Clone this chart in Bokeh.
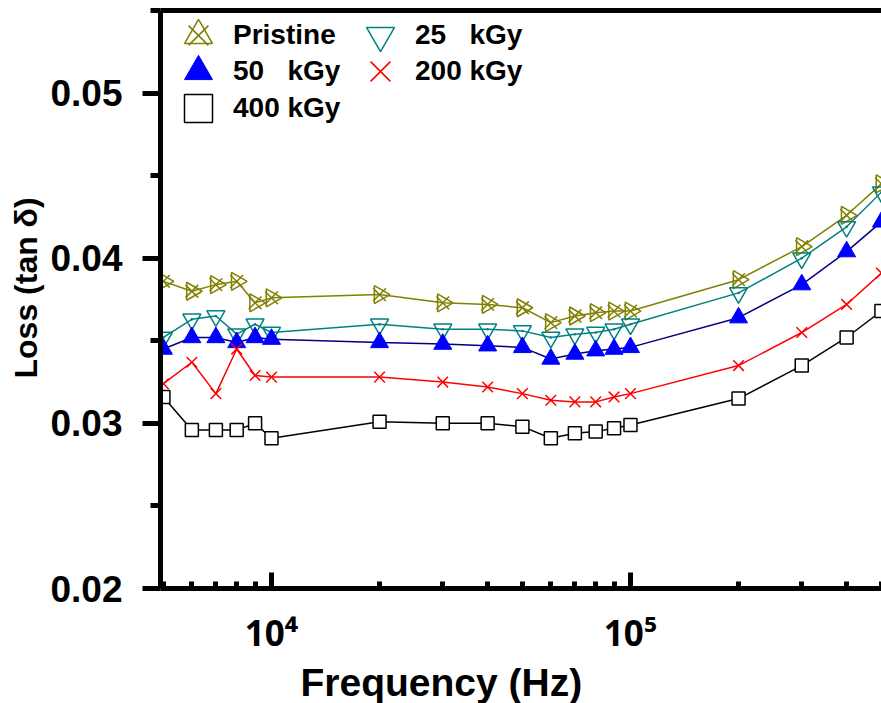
from math import pi
from bokeh.plotting import figure
from bokeh.models import FixedTicker, LogAxis, Legend, LegendItem, Title
from bokeh.embed import file_html
from bokeh.resources import INLINE

freq = [5000, 6000, 7000, 8000, 9000, 10000, 20000, 30000, 40000, 50000,
        60000, 70000, 80000, 90000, 100000, 200000, 300000, 400000, 500000]
pristine = [0.0386, 0.0380, 0.0384, 0.0386, 0.0373, 0.0376, 0.0378, 0.0373, 0.0372, 0.0370,
            0.0361, 0.0365, 0.0367, 0.0368, 0.0368, 0.0387, 0.0407, 0.0426, 0.0445]
kgy25 = [0.0352, 0.0363, 0.0365, 0.0354, 0.0360, 0.0355, 0.0360, 0.0357, 0.0357, 0.0356,
         0.0352, 0.0354, 0.0355, 0.0357, 0.0360, 0.0379, 0.0400, 0.0419, 0.0440]
kgy50 = [0.0345, 0.0352, 0.0352, 0.0349, 0.0352, 0.0351, 0.0349, 0.0348, 0.0347, 0.0346,
         0.0339, 0.0342, 0.0344, 0.0345, 0.0346, 0.0364, 0.0384, 0.0404, 0.0422]
kgy200 = [0.0324, 0.0337, 0.0318, 0.0345, 0.0329, 0.0328, 0.0328, 0.0325, 0.0322, 0.0318,
          0.0314, 0.0313, 0.0313, 0.0316, 0.0318, 0.0335, 0.0355, 0.0372, 0.0391]
kgy400 = [0.0316, 0.0296, 0.0296, 0.0296, 0.0300, 0.0291, 0.0301, 0.0300, 0.0300, 0.0298,
          0.0291, 0.0294, 0.0295, 0.0297, 0.0299, 0.0315, 0.0335, 0.0352, 0.0368]

labels = ["Pristine", "25   kGy", "50   kGy", "200 kGy", "400 kGy"]
x_major = [10000, 100000]
x_minor = [5000, 6000, 7000, 8000, 9000, 20000, 30000, 40000, 50000, 60000, 70000,
           80000, 90000, 200000, 300000, 400000, 500000]
y_major = [0.02, 0.03, 0.04, 0.05]
y_minor = [0.025, 0.035, 0.045, 0.055]

FONT = "Liberation Sans"

p = figure(width=881, height=703, x_axis_type="log",
           x_range=(4907, 500300), y_range=(0.02, 0.055),
           output_backend="svg", toolbar_location=None,
           min_border_left=160, min_border_right=0, min_border_top=10, min_border_bottom=113)
p.title.visible = False
p.outline_line_color = None
p.grid.visible = False
p.background_fill_color = "white"
p.border_fill_color = "white"

# axes
p.xaxis.ticker = FixedTicker(ticks=x_major, minor_ticks=x_minor)
p.xaxis.major_label_overrides = {10000: "10\u2074", 100000: "10\u2075"}
p.yaxis.ticker = FixedTicker(ticks=y_major, minor_ticks=y_minor)
for ax in (p.xaxis[0], p.yaxis[0]):
    ax.axis_line_width = 5
    ax.major_tick_line_width = 5
    ax.minor_tick_line_width = 5
    ax.major_label_text_font = FONT
    ax.major_label_text_font_style = "bold"
    ax.major_label_text_font_size = "37px"
    ax.major_label_text_color = "black"
p.xaxis.major_label_text_font = "Noto Sans"
p.xaxis.major_label_text_font_size = "35px"
p.xaxis.major_tick_in = 16
p.xaxis.major_tick_out = 0
p.xaxis.minor_tick_in = 7
p.xaxis.minor_tick_out = 0
p.xaxis.major_label_standoff = 20
p.yaxis.major_tick_in = 0
p.yaxis.major_tick_out = 18
p.yaxis.minor_tick_in = 0
p.yaxis.minor_tick_out = 10
p.yaxis.major_label_standoff = 20

top = LogAxis(ticker=FixedTicker(ticks=[]), axis_line_width=5,
              major_tick_line_color=None, minor_tick_line_color=None,
              major_label_text_font_size="0px")
p.add_layout(top, "above")

OLIVE, TEAL, BLUE, NAVY, RED = "#808000", "#008080", "#0000FF", "#000080", "#FF0000"

for vals, lc in [(pristine, OLIVE), (kgy25, TEAL), (kgy50, NAVY), (kgy200, RED), (kgy400, "black")]:
    p.line(freq, vals, line_color=lc, line_width=1.5)

m_pr_tri = p.scatter(freq, pristine, marker="triangle", angle=-pi / 2, size=18,
                     line_color=OLIVE, fill_color=None, line_width=1.5)
m_pr_x = p.scatter(freq, pristine, marker="x", size=18, line_color=OLIVE, line_width=1.5)
m_25 = p.scatter(freq, kgy25, marker="inverted_triangle", size=18,
                 line_color=TEAL, fill_color=None, line_width=1.5)
m_25d = p.scatter(freq, kgy25, marker="dot", size=10, line_color=TEAL, fill_color=TEAL)
m_50 = p.scatter(freq, kgy50, marker="triangle", size=18, line_color=BLUE,
                 fill_color=BLUE, line_width=1)
m_200 = p.scatter(freq, kgy200, marker="x", size=15, line_color=RED, line_width=1.5)
m_400 = p.scatter(freq, kgy400, marker="square", size=13, line_color="black",
                  fill_color="white", line_width=1.5)

common = dict(glyph_width=70, glyph_height=70, label_height=70, spacing=0,
              label_standoff=0, padding=0, margin=0, border_line_color=None,
              background_fill_alpha=0, label_text_font=FONT, label_text_color="black",
              label_text_font_style="bold", label_text_font_size="28px")
legend_spec = [
    (labels[0], [m_pr_tri, m_pr_x], (3, 518)),
    (labels[2], [m_50], (3, 482)),
    (labels[4], [m_400], (3, 445)),
    (labels[1], [m_25], (185, 518)),
    (labels[3], [m_200], (185, 482)),
]
for lab, rends, loc in legend_spec:
    p.add_layout(Legend(items=[LegendItem(label=lab, renderers=rends)], location=loc, **common))

xtitle = Title(text="Frequency (Hz)", align="left", offset=140, standoff=0,
               text_font=FONT, text_font_style="bold", text_font_size="39px",
               text_color="black")
ytitle = Title(text="Loss (tan \u03b4)", align="left", offset=210, standoff=8,
               text_font=FONT, text_font_style="bold", text_font_size="32px",
               text_color="black")
p.add_layout(xtitle, "below")
p.add_layout(ytitle, "left")

open("out.html", "w").write(file_html(p, INLINE))
